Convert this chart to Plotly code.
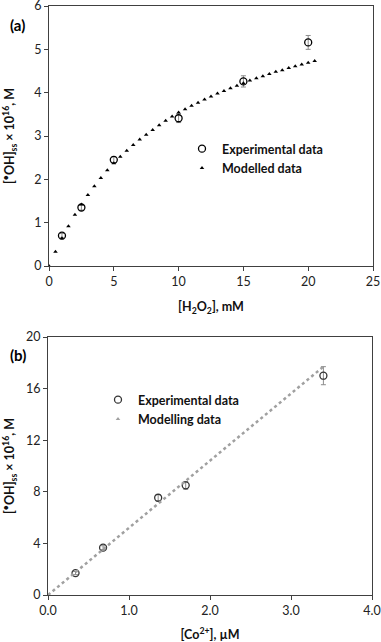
import plotly.graph_objects as go

# ---------------------------
# Panel (a): [OH]ss vs [H2O2]
# ---------------------------
h2o2_exp = [1, 2.5, 5, 10, 15, 20]
oh_exp_a = [0.70, 1.35, 2.45, 3.41, 4.26, 5.16]
oh_err_a = [0.05, 0.06, 0.07, 0.10, 0.13, 0.16]

h2o2_mod = [0, 0.5, 1.0, 1.5, 2.0, 2.5, 3.0, 3.5, 4.0, 4.5, 5.0, 5.5, 6.0, 6.5,
            7.0, 7.5, 8.0, 8.5, 9.0, 9.5, 10.0, 10.5, 11.0, 11.5, 12.0, 12.5,
            13.0, 13.5, 14.0, 14.5, 15.0, 15.5, 16.0, 16.5, 17.0, 17.5, 18.0,
            18.5, 19.0, 19.5, 20.0, 20.5]
oh_mod_a = [0, 0.33, 0.64, 0.92, 1.18, 1.42, 1.64, 1.84, 2.03, 2.21, 2.37, 2.52,
            2.66, 2.79, 2.92, 3.03, 3.14, 3.25, 3.35, 3.45, 3.54, 3.62, 3.70,
            3.77, 3.84, 3.91, 3.98, 4.04, 4.10, 4.16, 4.22, 4.28, 4.33, 4.38,
            4.43, 4.48, 4.52, 4.57, 4.61, 4.65, 4.69, 4.73]

# ---------------------------
# Panel (b): [OH]ss vs [Co2+]
# ---------------------------
co_exp = [0.34, 0.68, 1.36, 1.70, 3.40]
oh_exp_b = [1.70, 3.67, 7.54, 8.50, 17.0]
oh_err_b = [0.12, 0.15, 0.25, 0.30, 0.70]

co_mod = [0, 3.4]
oh_mod_b = [0, 17.7]

W, H = 381, 642
FONT = "Lato"
AX = "#404040"


def px_x(p):
    return p / W


def px_y(p):
    return 1 - p / H


fig = go.Figure()

# (a) traces
fig.add_trace(go.Scatter(
    x=h2o2_exp, y=oh_exp_a, mode="markers", name="Experimental data",
    marker=dict(symbol="circle-open", size=7, color="black", line=dict(width=1.3)),
    error_y=dict(type="data", array=oh_err_a, color="#8c8c8c", thickness=1, width=2.5),
    xaxis="x", yaxis="y", legend="legend"))
fig.add_trace(go.Scatter(
    x=h2o2_mod, y=oh_mod_a, mode="markers", name="Modelled data",
    marker=dict(symbol="triangle-up", size=4, color="black"),
    xaxis="x", yaxis="y", legend="legend"))

# (b) traces
fig.add_trace(go.Scatter(
    x=co_exp, y=oh_exp_b, mode="markers", name="Experimental data",
    marker=dict(symbol="circle-open", size=7, color="#333333", line=dict(width=1.3)),
    error_y=dict(type="data", array=oh_err_b, color="#8c8c8c", thickness=1, width=2.5),
    xaxis="x2", yaxis="y2", legend="legend2"))
fig.add_trace(go.Scatter(
    x=co_mod, y=oh_mod_b, mode="lines", showlegend=False,
    line=dict(color="#a0a0a0", width=2.5, dash="dot"),
    xaxis="x2", yaxis="y2"))
fig.add_trace(go.Scatter(
    x=[None], y=[None], mode="markers", name="Modelling data",
    marker=dict(symbol="triangle-up", size=4, color="#a0a0a0"),
    xaxis="x2", yaxis="y2", legend="legend2"))

axis_common = dict(
    showgrid=False, zeroline=False, showline=True, linecolor=AX, linewidth=1,
    mirror=True, ticks="outside", ticklen=4, tickcolor=AX, tickwidth=1,
    automargin=False, ticklabeloverflow="allow",
    tickfont=dict(family=FONT, size=12.5, color="#222222"),
)
title_font = dict(family=FONT, size=12.5, color="#111111", weight="bold")
legend_font = dict(family=FONT, size=12.5, color="#111111", weight="bold")
ytitle = "[<sup>•</sup>OH]<sub>ss</sub> × 10<sup>16</sup>, M"

fig.update_layout(
    width=W, height=H,
    margin=dict(l=0, r=0, t=0, b=0),
    paper_bgcolor="white", plot_bgcolor="white",
    xaxis=dict(axis_common, domain=[px_x(49), px_x(373)], range=[0, 25],
               dtick=5, anchor="y",
               title=dict(text="[H<sub>2</sub>O<sub>2</sub>], mM", font=title_font, standoff=14)),
    yaxis=dict(axis_common, domain=[px_y(266), px_y(6)], range=[0, 6],
               dtick=1, anchor="x",
               title=dict(text=ytitle, font=title_font, standoff=16)),
    xaxis2=dict(axis_common, domain=[px_x(48), px_x(372)], range=[0, 4],
                dtick=1, tickformat=".1f", anchor="y2",
                title=dict(text="[Co<sup>2+</sup>], µM", font=title_font, standoff=13)),
    yaxis2=dict(axis_common, domain=[px_y(595), px_y(337)], range=[0, 20],
                dtick=4, anchor="x2",
                title=dict(text=ytitle, font=title_font, standoff=12)),
    legend=dict(x=px_x(182), y=px_y(134), xanchor="left", yanchor="top",
                bgcolor="rgba(0,0,0,0)", tracegroupgap=0, font=legend_font),
    legend2=dict(x=px_x(98), y=px_y(385), xanchor="left", yanchor="top",
                 bgcolor="rgba(0,0,0,0)", tracegroupgap=0, font=legend_font),
    annotations=[
        dict(text="(a)", x=px_x(8), y=px_y(25), xref="paper", yref="paper",
             xanchor="left", yanchor="middle", showarrow=False,
             font=dict(family=FONT, size=15, color="black", weight="bold")),
        dict(text="(b)", x=px_x(8), y=px_y(355), xref="paper", yref="paper",
             xanchor="left", yanchor="middle", showarrow=False,
             font=dict(family=FONT, size=15, color="black", weight="bold")),
    ],
)

# the default page body has an 8px margin; drop it so the figure fills the window
fig.write_html("out.html", config={"displayModeBar": False},
               post_script="document.body.style.margin = '0';")
